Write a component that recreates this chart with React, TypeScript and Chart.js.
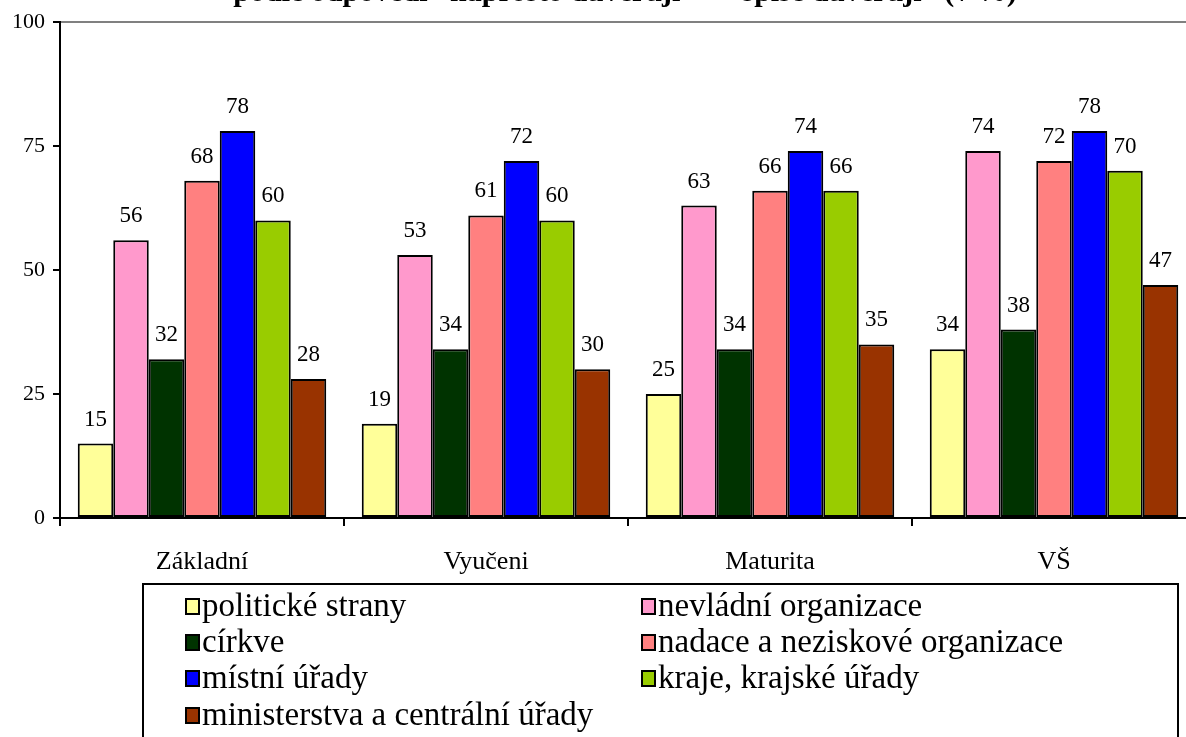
import React, { useEffect, useRef } from 'react';
import { Chart, registerables } from 'chart.js';

Chart.register(...registerables);

// ---- data ----
const categories = ['Základní', 'Vyučeni', 'Maturita', 'VŠ'];
const seriesNames = [
  'politické strany',
  'nevládní organizace',
  'církve',
  'nadace a neziskové organizace',
  'místní úřady',
  'kraje, krajské úřady',
  'ministerstva a centrální úřady',
];
const politickeStrany = [15, 19, 25, 34];
const nevladniOrganizace = [56, 53, 63, 74];
const cirkve = [32, 34, 34, 38];
const nadaceNeziskove = [68, 61, 66, 72];
const mistniUrady = [78, 72, 74, 78];
const krajeKrajskeUrady = [60, 60, 66, 70];
const ministerstvaCentralni = [28, 30, 35, 47];
const seriesColors = ['#FFFF99', '#FF99CC', '#003300', '#FF8080', '#0000FF', '#99CC00', '#993300'];
const yTickValues = [0, 25, 50, 75, 100];
const titleText = 'podle odpovědí “naprosto důvěřuji” + “spíše důvěřuji” (v %)';

const FONT = '"Liberation Serif", "Times New Roman", serif';
const CANVAS_W = 1240;
const CANVAS_H = 790;

const labelPlugin = {
  id: 'valueLabels',
  afterDatasetsDraw(chart: any) {
    const ctx = chart.ctx;
    ctx.save();
    ctx.font = `23px ${FONT}`;
    ctx.fillStyle = '#000';
    ctx.textAlign = 'center';
    ctx.textBaseline = 'alphabetic';
    chart.data.datasets.forEach((ds: any, i: number) => {
      const meta = chart.getDatasetMeta(i);
      meta.data.forEach((bar: any, j: number) => {
        ctx.fillText(String(ds.data[j]), bar.x, bar.y - 18);
      });
    });
    ctx.restore();
  },
};

const decorPlugin = {
  id: 'decor',
  afterDraw(chart: any) {
    const ctx = chart.ctx;
    const area = chart.chartArea;
    ctx.save();
    // title (mostly outside the visible region)
    ctx.font = `bold 30px ${FONT}`;
    ctx.fillStyle = '#000';
    ctx.textAlign = 'center';
    ctx.textBaseline = 'alphabetic';
    ctx.fillText(titleText, (area.left + area.right) / 2 - 3, 1);

    // legend box
    const bx = 143, by = 584, bw = 1035, bh = 190;
    ctx.lineWidth = 2;
    ctx.strokeStyle = '#000';
    ctx.fillStyle = '#fff';
    ctx.fillRect(bx, by, bw, bh);
    ctx.strokeRect(bx, by, bw, bh);

    const colX = [186, 642];
    const rowY = [606, 642, 678, 715];
    ctx.font = `33px ${FONT}`;
    ctx.textAlign = 'left';
    ctx.textBaseline = 'middle';
    chart.data.datasets.forEach((ds: any, i: number) => {
      const c = i % 2;
      const r = Math.floor(i / 2);
      const x = colX[c];
      const y = rowY[r];
      ctx.fillStyle = ds.backgroundColor;
      ctx.fillRect(x, y - 7, 13, 15);
      ctx.lineWidth = 2;
      ctx.strokeStyle = '#000';
      ctx.strokeRect(x, y - 7, 13, 15);
      ctx.fillStyle = '#000';
      ctx.fillText(ds.label, x + 16, y + 1);
    });
    ctx.restore();
  },
};

export default function App() {
  const ref = useRef<HTMLCanvasElement | null>(null);

  useEffect(() => {
    if (!ref.current) return;
    const values = [
      politickeStrany,
      nevladniOrganizace,
      cirkve,
      nadaceNeziskove,
      mistniUrady,
      krajeKrajskeUrady,
      ministerstvaCentralni,
    ];
    const chart = new Chart(ref.current, {
      type: 'bar',
      data: {
        labels: categories,
        datasets: values.map((v, i) => ({
          label: seriesNames[i],
          data: v,
          backgroundColor: seriesColors[i],
          borderColor: '#000',
          borderWidth: 2,
          borderSkipped: false,
          categoryPercentage: 0.875,
          barPercentage: 1,
        })),
      },
      options: {
        responsive: false,
        maintainAspectRatio: false,
        animation: false,
        layout: { padding: { top: 22, left: 0, right: CANVAS_W - 1196, bottom: CANVAS_H - 518 - 60 } },
        plugins: {
          legend: { display: false },
          title: { display: false },
          tooltip: { enabled: false },
        },
        scales: {
          x: {
            grid: {
              offset: true,
              color: 'transparent',
              tickColor: '#000',
              tickLength: 8,
              lineWidth: 2,
            },
            border: { color: '#000', width: 2 },
            ticks: {
              color: '#000',
              font: { family: FONT, size: 26 },
              padding: 21,
            },
            afterFit: (s: any) => {
              s.height = 60;
            },
          },
          y: {
            min: 0,
            max: 100,
            afterBuildTicks: (s: any) => {
              s.ticks = yTickValues.map((v) => ({ value: v }));
            },
            grid: {
              color: (c: any) => (c.tick && c.tick.value === 100 ? '#808080' : 'transparent'),
              tickColor: '#000',
              tickLength: 7,
              lineWidth: 2,
            },
            border: { color: '#000', width: 2 },
            ticks: {
              color: '#000',
              font: { family: FONT, size: 22 },
              padding: 8,
            },
            afterFit: (s: any) => {
              s.width = 60;
            },
          },
        },
      },
      plugins: [labelPlugin, decorPlugin],
    });
    return () => chart.destroy();
  }, []);

  return (
    <div
      style={{
        position: 'fixed',
        left: 0,
        top: 0,
        width: 1186,
        height: 737,
        overflow: 'hidden',
        background: '#fff',
      }}
    >
      <canvas ref={ref} width={CANVAS_W} height={CANVAS_H} style={{ display: 'block' }} />
    </div>
  );
}
